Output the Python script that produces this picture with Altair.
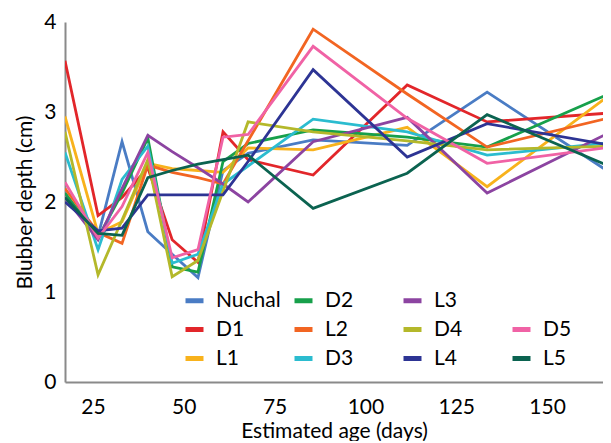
import altair as alt
import pandas as pd

days = [17.3, 26.4, 33.0, 40.1, 46.8, 53.9, 60.8, 67.7, 85.6, 111.5, 133.5, 167.6]

sites = ["Nuchal", "D1", "L1", "D2", "L2", "D3", "L3", "D4", "L4", "D5", "L5"]
nuchal = [2.10, 1.62, 2.67, 1.67, 1.42, 1.16, 2.35, 2.54, 2.69, 2.63, 3.22, 2.32]
d1 = [3.57, 1.85, 2.05, 2.38, 1.58, 1.33, 2.78, 2.47, 2.30, 3.30, 2.89, 2.99]
l1 = [2.95, 1.65, 1.78, 2.43, 2.37, 2.35, 2.33, 2.60, 2.58, 2.83, 2.17, 3.20]
d2 = [2.10, 1.60, 2.10, 2.71, 1.28, 1.22, 2.45, 2.65, 2.80, 2.72, 2.61, 3.21]
l2 = [2.15, 1.66, 1.54, 2.41, 2.33, 2.27, 2.20, 2.68, 3.92, 3.20, 2.61, 2.94]
d3 = [2.55, 1.47, 2.25, 2.62, 1.32, 1.42, 2.20, 2.40, 2.92, 2.78, 2.52, 2.66]
l3 = [2.05, 1.58, 2.15, 2.74, 2.56, 2.38, 2.20, 2.00, 2.67, 2.94, 2.10, 2.78]
d4 = [2.78, 1.19, 1.80, 2.47, 1.17, 1.35, 2.12, 2.89, 2.78, 2.68, 2.58, 2.62]
l4 = [2.00, 1.68, 1.71, 2.08, 2.08, 2.08, 2.08, 2.45, 3.47, 2.50, 2.87, 2.63]
d5 = [2.22, 1.60, 1.95, 2.55, 1.38, 1.47, 2.72, 2.75, 3.73, 2.93, 2.43, 2.61]
l5 = [2.05, 1.65, 1.63, 2.27, 2.35, 2.42, 2.47, 2.52, 1.93, 2.32, 2.97, 2.39]

series = [nuchal, d1, l1, d2, l2, d3, l3, d4, l4, d5, l5]
site_colors = {
    "Nuchal": "#4A7CC4", "D1": "#E2262A", "L1": "#F8B21C", "D2": "#17A04B",
    "L2": "#F26522", "D3": "#2BBCCF", "L3": "#8C44A1", "D4": "#B4B82A",
    "L4": "#2D3494", "D5": "#F062A5", "L5": "#0B6350",
}

# legend grid is filled column by column (3 rows x 4 columns) with one blank slot
legend_order = ["Nuchal", "D1", "L1", "D2", "L2", "D3", "L3", "D4", "L4", " ", "D5", "L5"]
legend_colors = [site_colors.get(s, "#ffffff") for s in legend_order]

rows = []
for name, vals in zip(sites, series):
    for d, v in zip(days, vals):
        rows.append({"site": name, "day": d, "depth": v})
df = pd.DataFrame(rows)

FONT = "Lato"

chart = alt.Chart(df).mark_line(strokeWidth=2.8, clip=True).encode(
    x=alt.X("day:Q",
            scale=alt.Scale(domain=[17.3, 165.4], nice=False, zero=False),
            axis=alt.Axis(values=[25, 50, 75, 100, 125, 150], title="Estimated age (days)",
                          grid=False, ticks=False, labelPadding=14, titlePadding=3,
                          domainColor="#8a8a8a", domainWidth=2)),
    y=alt.Y("depth:Q",
            scale=alt.Scale(domain=[0, 4], nice=False),
            axis=alt.Axis(values=[0, 1, 2, 3, 4], title="Blubber depth (cm)",
                          grid=False, ticks=False, labelPadding=9, titlePadding=8,
                          domainColor="#8a8a8a", domainWidth=2)),
    color=alt.Color("site:N",
                    scale=alt.Scale(domain=legend_order, range=legend_colors),
                    legend=alt.Legend(title=None, orient="none", legendX=118, legendY=267,
                                      columns=4, gridAlign="all", columnPadding=3,
                                      rowPadding=7, symbolType="stroke", symbolStrokeWidth=5,
                                      symbolSize=324, labelFontSize=21, labelFont=FONT,
                                      labelOffset=10, labelColor="black")),
).properties(
    width=538, height=360,
    padding={"left": 6, "top": 3, "right": 0, "bottom": 0},
).configure_view(stroke=None).configure_axis(
    labelFont=FONT, titleFont=FONT, labelFontSize=21, titleFontSize=21,
    labelColor="black", titleColor="black", titleFontWeight="normal",
)

chart.save("out.html", embed_options={"renderer": "svg", "actions": False})
